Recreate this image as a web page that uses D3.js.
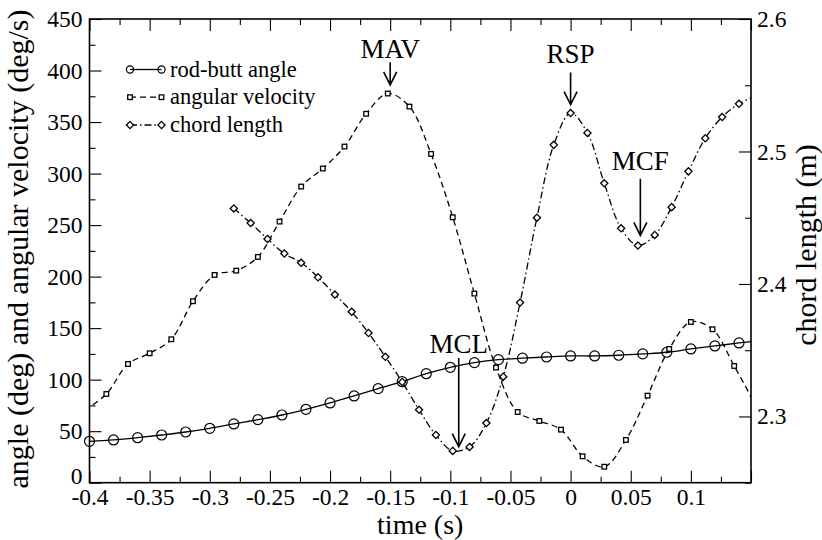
<!DOCTYPE html>
<html>
<head>
<meta charset="utf-8">
<script src="https://cdn.jsdelivr.net/npm/d3@7"></script>
<style>
  body { margin: 0; background: #fff; }
  svg { display: block; }
  text { font-family: "Liberation Serif", "Times New Roman", serif; fill: #000; }
</style>
</head>
<body>
<div id="chart"></div>
<script>
const width = 822;
const height = 540;

// rod-butt angle (deg), every 0.02 s
const rodTime = [-0.4, -0.38, -0.36, -0.34, -0.32, -0.3, -0.28, -0.26, -0.24, -0.22, -0.2, -0.18, -0.16, -0.14,
  -0.12, -0.1, -0.08, -0.06, -0.04, -0.02, 0, 0.02, 0.04, 0.06, 0.08, 0.1, 0.12, 0.14, 0.16];
const rodAngle = [40.2, 41.5, 43.7, 46.3, 49.2, 52.8, 57.0, 61.2, 65.7, 71.2, 77.4, 84.2, 91.3, 98.0,
  105.8, 112.0, 116.5, 119.4, 120.8, 122.0, 123.0, 123.0, 123.7, 125.0, 126.6, 129.8, 132.7, 135.6, 138.4];

// angular velocity (deg/s)
const velTime = [-0.404, -0.386, -0.368, -0.35, -0.332, -0.314, -0.296, -0.278, -0.26, -0.242, -0.224, -0.206,
  -0.188, -0.17, -0.152, -0.134, -0.116, -0.098, -0.08, -0.062, -0.044, -0.026, -0.008, 0.01, 0.028,
  0.046, 0.064, 0.082, 0.1, 0.118, 0.136, 0.154];
const velValue = [70.2, 86.1, 115.2, 125.6, 139.2, 176.1, 201.6, 205.8, 219.1, 253.4, 287.4, 304.9,
  326.2, 358.0, 377.7, 365.0, 319.1, 257.6, 183.5, 111.7, 68.6, 59.9, 51.5, 25.6, 15.5,
  41.5, 84.5, 129.8, 156.0, 148.9, 113.3, 75.0];

// chord length (m), right axis
const chordTime = [-0.28, -0.266, -0.252, -0.238, -0.224, -0.21, -0.196, -0.182, -0.168, -0.154, -0.14, -0.126,
  -0.112, -0.098, -0.084, -0.07, -0.056, -0.042, -0.028, -0.014, 0, 0.014, 0.028, 0.042, 0.056, 0.07,
  0.084, 0.098, 0.112, 0.126, 0.14, 0.154];
const chordLen = [2.457, 2.446, 2.434, 2.423, 2.416, 2.405, 2.392, 2.379, 2.363, 2.345, 2.326, 2.305,
  2.286, 2.274, 2.277, 2.295, 2.330, 2.386, 2.450, 2.505, 2.529, 2.514, 2.476, 2.442, 2.429, 2.437,
  2.458, 2.485, 2.510, 2.526, 2.536, 2.542];

// ticks
const xTicks = [-0.4, -0.35, -0.3, -0.25, -0.2, -0.15, -0.1, -0.05, 0, 0.05, 0.1, 0.15];
const xLabels = ["-0.4", "-0.35", "-0.3", "-0.25", "-0.2", "-0.15", "-0.1", "-0.05", "0", "0.05", "0.1", ""];
const xMinor = [-0.375, -0.325, -0.275, -0.225, -0.175, -0.125, -0.075, -0.025, 0.025, 0.075, 0.125];
const yLeftTicks = [0, 50, 100, 150, 200, 250, 300, 350, 400, 450];
const yLeftMinor = [25, 75, 125, 175, 225, 275, 325, 375, 425];
const yRightTicks = [2.3, 2.4, 2.5, 2.6];
const yRightMinor = [2.25, 2.35, 2.45, 2.55];

// annotations (time, left-axis units)
const annLabel = ["MAV", "RSP", "MCF", "MCL"];
const annTime = [-0.15, 0, 0.058, -0.093];
const annText = [412, 407, 303, 126];
const annFrom = [408, 398, 295, 121];
const annTo = [386, 367, 240, 35];

const legendNames = ["rod-butt angle", "angular velocity", "chord length"];

const margin = {top: 19, right: 71, bottom: 57.3, left: 89.5};
const x = d3.scaleLinear().domain([-0.4, 0.15]).range([margin.left, width - margin.right]);
const yL = d3.scaleLinear().domain([0, 450]).range([height - margin.bottom, margin.top]);
const yR = d3.scaleLinear().domain([2.25, 2.6]).range([height - margin.bottom, margin.top]);

const svg = d3.select("#chart").append("svg")
    .attr("width", width)
    .attr("height", height)
    .attr("viewBox", [0, 0, width, height]);

svg.append("defs").append("clipPath")
    .attr("id", "plot")
  .append("rect")
    .attr("x", margin.left)
    .attr("y", margin.top)
    .attr("width", width - margin.left - margin.right)
    .attr("height", height - margin.top - margin.bottom);

const bottom = height - margin.bottom;
const right = width - margin.right;
const serif = "Liberation Serif, Times New Roman, serif";

function styleAxis(g) {
  g.attr("font-family", serif);
  g.select(".domain").remove();
  g.selectAll(".tick line").attr("stroke", "#000").attr("stroke-width", 1.1);
  g.selectAll("text").attr("fill", "#000").attr("font-size", 23.5);
}

// x axis, bottom and top, ticks inside
svg.append("g").attr("transform", `translate(0,${bottom})`)
    .call(d3.axisBottom(x).tickValues(xTicks).tickSize(-12).tickPadding(6)
      .tickFormat((d, i) => xLabels[i]))
    .call(styleAxis);
svg.append("g").attr("transform", `translate(0,${bottom})`)
    .call(d3.axisBottom(x).tickValues(xMinor).tickSize(-6).tickFormat(""))
    .call(styleAxis);
svg.append("g").attr("transform", `translate(0,${margin.top})`)
    .call(d3.axisTop(x).tickValues(xTicks).tickSize(-12).tickFormat(""))
    .call(styleAxis);
svg.append("g").attr("transform", `translate(0,${margin.top})`)
    .call(d3.axisTop(x).tickValues(xMinor).tickSize(-6).tickFormat(""))
    .call(styleAxis);

// left axis
svg.append("g").attr("transform", `translate(${margin.left},0)`)
    .call(d3.axisLeft(yL).tickValues(yLeftTicks).tickSize(-12).tickPadding(7).tickFormat(d3.format("d")))
    .call(styleAxis)
    .call(g => g.selectAll(".tick text").filter(d => d === 0).attr("dy", "0.05em"));
svg.append("g").attr("transform", `translate(${margin.left},0)`)
    .call(d3.axisLeft(yL).tickValues(yLeftMinor).tickSize(-6).tickFormat(""))
    .call(styleAxis);

// right axis
svg.append("g").attr("transform", `translate(${right},0)`)
    .call(d3.axisRight(yR).tickValues(yRightTicks).tickSize(-12).tickPadding(6).tickFormat(d3.format(".1f")))
    .call(styleAxis);
svg.append("g").attr("transform", `translate(${right},0)`)
    .call(d3.axisRight(yR).tickValues(yRightMinor).tickSize(-6).tickFormat(""))
    .call(styleAxis);

// frame
svg.append("rect")
    .attr("x", margin.left)
    .attr("y", margin.top)
    .attr("width", right - margin.left)
    .attr("height", bottom - margin.top)
    .attr("fill", "none")
    .attr("stroke", "#000")
    .attr("stroke-width", 1.6);

// axis titles
svg.append("text")
    .attr("x", (margin.left + right) / 2)
    .attr("y", 534)
    .attr("text-anchor", "middle")
    .attr("font-family", serif)
    .attr("font-size", 28)
    .text("time (s)");
svg.append("text")
    .attr("transform", "translate(28,249) rotate(-90)")
    .attr("text-anchor", "middle")
    .attr("font-family", serif)
    .attr("font-size", 30)
    .text("angle (deg) and angular velocity (deg/s)");
svg.append("text")
    .attr("transform", "translate(816,245) rotate(-90)")
    .attr("text-anchor", "middle")
    .attr("font-family", serif)
    .attr("font-size", 30)
    .text("chord length (m)");

const rod = rodTime.map((t, i) => ({t: t, v: rodAngle[i]}));
const vel = velTime.map((t, i) => ({t: t, v: velValue[i]}));
const chord = chordTime.map((t, i) => ({t: t, v: chordLen[i]}));
const inside = d => d.t >= -0.4 - 1e-9 && d.t <= 0.15;

const lineL = d3.line().x(d => x(d.t)).y(d => yL(d.v)).curve(d3.curveCatmullRom);
const lineR = d3.line().x(d => x(d.t)).y(d => yR(d.v)).curve(d3.curveCatmullRom);

const lines = svg.append("g").attr("clip-path", "url(#plot)")
    .attr("fill", "none").attr("stroke", "#000").attr("stroke-width", 1.3);
lines.append("path").attr("d", lineL(rod));
lines.append("path").attr("d", lineL(vel)).attr("stroke-dasharray", "6,4");
lines.append("path").attr("d", lineR(chord)).attr("stroke-dasharray", "7,3,1.5,3");

const diamond = s => `M0,${-s}L${s},0L0,${s}L${-s},0Z`;

// markers
svg.append("g").selectAll("circle")
  .data(rod.filter(inside))
  .join("circle")
    .attr("cx", d => x(d.t))
    .attr("cy", d => yL(d.v))
    .attr("r", 5)
    .attr("fill", "none")
    .attr("stroke", "#000")
    .attr("stroke-width", 1.2);

svg.append("g").selectAll("rect")
  .data(vel.filter(inside))
  .join("rect")
    .attr("x", d => x(d.t) - 2.3)
    .attr("y", d => yL(d.v) - 2.3)
    .attr("width", 4.6)
    .attr("height", 4.6)
    .attr("fill", "#fff")
    .attr("stroke", "#000")
    .attr("stroke-width", 1.3);

svg.append("g").selectAll("path")
  .data(chord.filter(inside))
  .join("path")
    .attr("transform", d => `translate(${x(d.t)},${yR(d.v)})`)
    .attr("d", diamond(3.6))
    .attr("fill", "#fff")
    .attr("stroke", "#000")
    .attr("stroke-width", 1.3);

// legend
const legend = svg.append("g");
const legY = [69.5, 97.2, 125];
const legDash = [null, "6,4", "7,3,1.5,3"];
legendNames.forEach((name, i) => {
  const g = legend.append("g").attr("transform", `translate(0,${legY[i]})`);
  g.append("line").attr("x1", 130).attr("x2", 161.5)
    .attr("stroke", "#000").attr("stroke-width", 1.3)
    .attr("stroke-dasharray", legDash[i]);
  [130, 161.5].forEach(cx => {
    if (i === 0) {
      g.append("circle").attr("cx", cx).attr("r", 3.6)
        .attr("fill", "none").attr("stroke", "#000").attr("stroke-width", 1.2);
    } else if (i === 1) {
      g.append("rect").attr("x", cx - 2.3).attr("y", -2.3).attr("width", 4.6).attr("height", 4.6)
        .attr("fill", "#fff").attr("stroke", "#000").attr("stroke-width", 1.3);
    } else {
      g.append("path").attr("transform", `translate(${cx},0)`).attr("d", diamond(3.6))
        .attr("fill", "#fff").attr("stroke", "#000").attr("stroke-width", 1.3);
    }
  });
  g.append("text").attr("x", 170).attr("y", 7)
    .attr("font-family", serif).attr("font-size", 22.5).text(name);
});

// annotations with arrows
annLabel.forEach((label, i) => {
  const ax = x(annTime[i]);
  const y0 = yL(annFrom[i]);
  const y1 = yL(annTo[i]);
  svg.append("text")
    .attr("x", ax)
    .attr("y", yL(annText[i]))
    .attr("text-anchor", "middle")
    .attr("font-family", serif)
    .attr("font-size", 27)
    .text(label);
  svg.append("path")
    .attr("d", `M${ax},${y0}V${y1}M${ax - 6.5},${y1 - 13}L${ax},${y1}L${ax + 6.5},${y1 - 13}`)
    .attr("fill", "none")
    .attr("stroke", "#000")
    .attr("stroke-width", 1.6);
});
</script>
</body>
</html>
